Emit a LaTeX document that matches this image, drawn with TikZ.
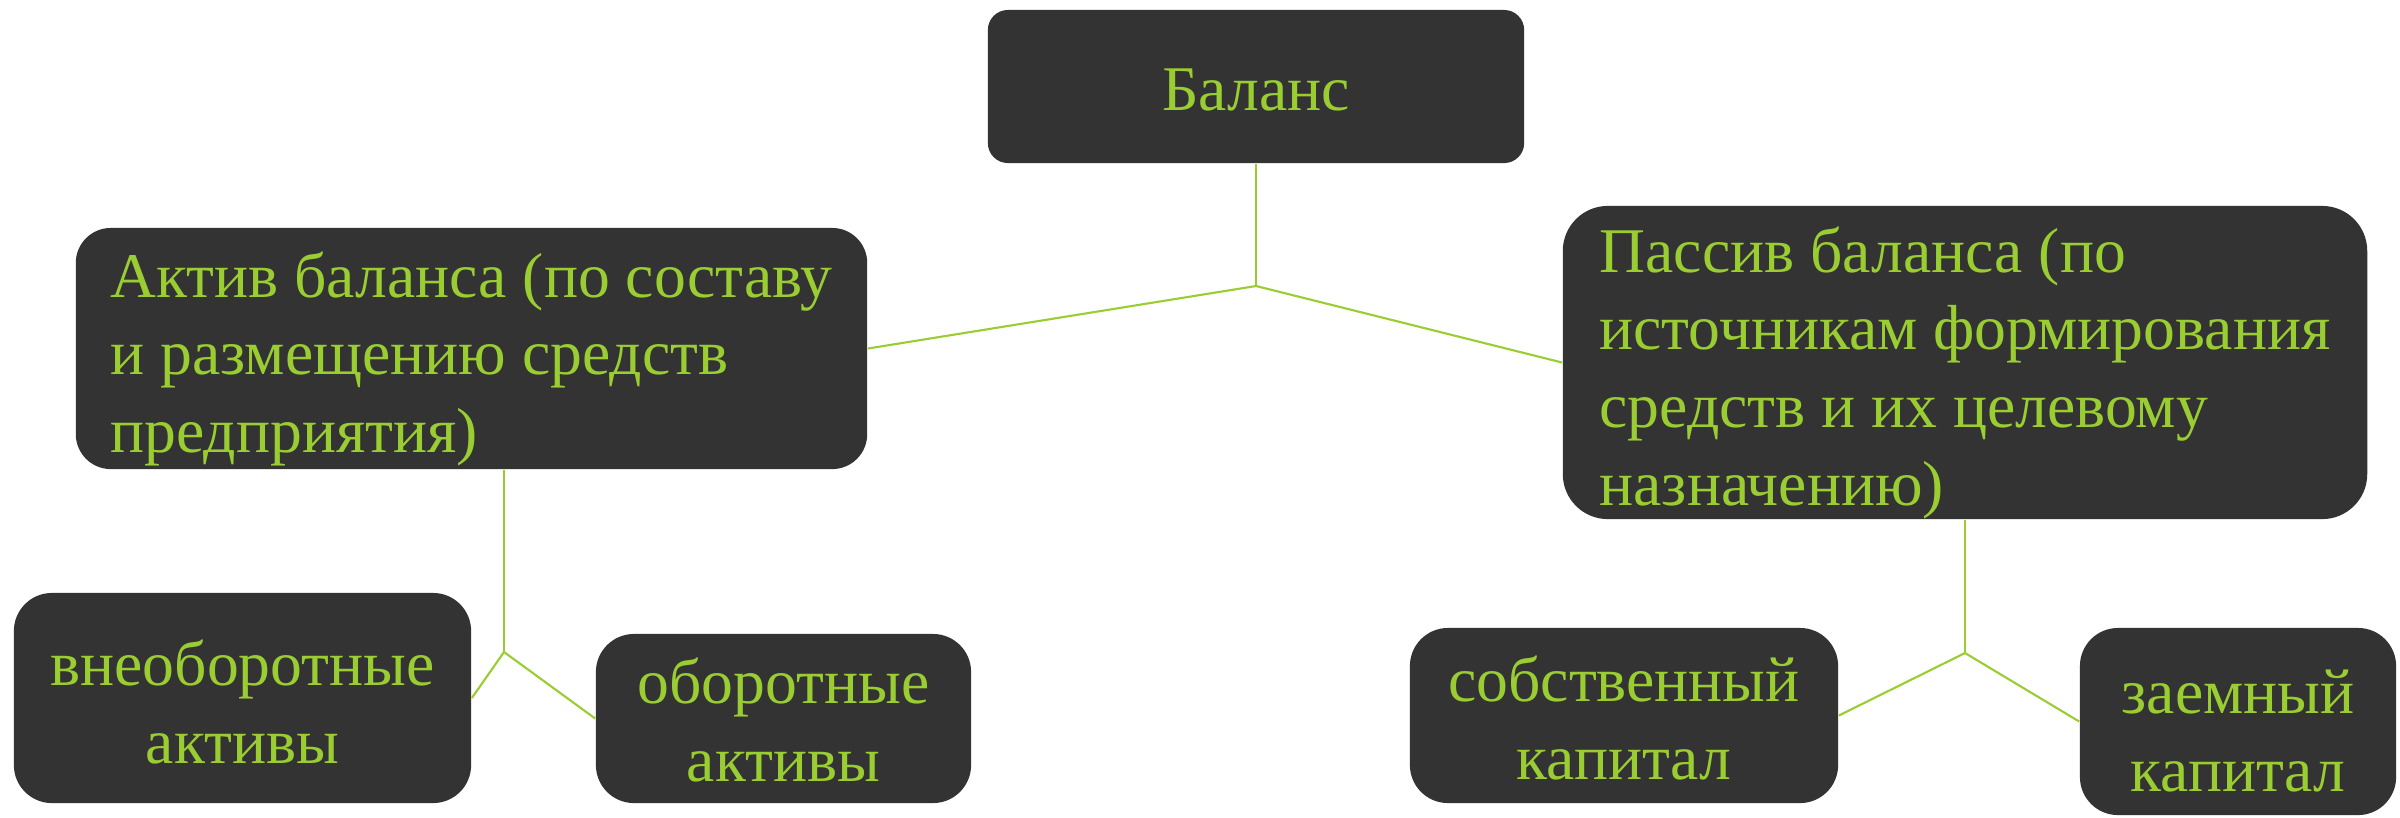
\documentclass[tikz,border=0pt]{standalone}
\usepackage{fontspec}
\setmainfont{Liberation Serif}
\usepackage{tikz}
\usetikzlibrary{calc}
\definecolor{leafgreen}{HTML}{9ACD32}
\definecolor{boxgray}{HTML}{333333}
\newcommand{\boxstrut}[1]{\rule{0pt}{#1}}
\tikzset{
  block/.style={
    fill=boxgray,
    text=leafgreen,
    inner sep=0pt,
    font=\fontsize{18.1}{22.1}\selectfont
  },
  wideblock/.style={block, align=left},
  smallblock/.style={block, align=center, rounded corners=0.38cm},
  link/.style={draw=leafgreen, line width=0.6pt}
}

\begin{document}
\begin{tikzpicture}[x=0.01cm, y=-0.01cm]
    \useasboundingbox (0,0) rectangle (2400,817);

    \node [block, rounded corners=0.2cm, minimum width=5.36cm, minimum height=1.53cm]
      (balance) at (1256, 86.5) {\boxstrut{0.48cm}Баланс};
    \node [wideblock, rounded corners=0.35cm, minimum width=7.91cm, minimum height=2.41cm]
      (aktiv) at (471.5, 348.5)
      {\boxstrut{0.66cm}Актив баланса (по составу\\и размещению средств\\предприятия)};
    \node [wideblock, rounded corners=0.45cm, minimum width=8.04cm, minimum height=3.13cm]
      (passiv) at (1965, 362.5)
      {\boxstrut{0.66cm}Пассив баланса (по\\источникам формирования\\средств и их целевому\\назначению)};

    \node [smallblock, minimum width=4.57cm, minimum height=2.10cm]
      (vneob) at (242.5, 698) {\boxstrut{0.53cm}внеоборотные\\активы};
    \node [smallblock, minimum width=3.75cm, minimum height=1.69cm]
      (obor) at (783.5, 718.5) {\boxstrut{0.49cm}оборотные\\активы};
    \node [smallblock, minimum width=4.28cm, minimum height=1.75cm]
      (sobst) at (1624, 715.5) {\boxstrut{0.51cm}собственный\\капитал};
    \node [smallblock, minimum width=3.16cm, minimum height=1.87cm]
      (zaem) at (2238, 721.5) {\boxstrut{0.63cm}заемный\\капитал};

    \coordinate (J0) at (1256, 286);
    \coordinate (J1) at (504, 652);
    \coordinate (J2) at (1965, 653);

    \draw [link] (balance.south) -- (J0);
    \draw [link] (J0) -- (aktiv.east);
    \draw [link] (J0) -- (passiv.west);

    \draw [link] (J1 |- aktiv.south) -- (J1);
    \draw [link] (J1) -- (vneob.east);
    \draw [link] (J1) -- (obor.west);

    \draw [link] (passiv.south) -- (J2);
    \draw [link] (J2) -- (sobst.east);
    \draw [link] (J2) -- (zaem.west);
  \end{tikzpicture}
\end{document}
